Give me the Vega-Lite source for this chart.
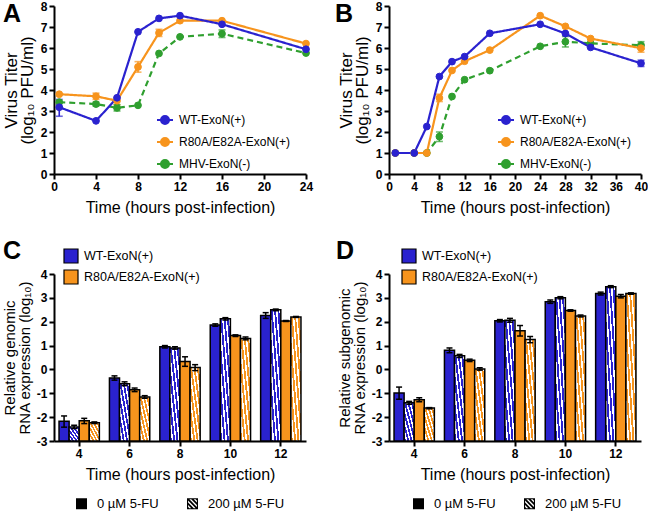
{
"$schema":"https://vega.github.io/schema/vega-lite/v6.json",
"padding":{"left":2,"top":0,"right":0,"bottom":0},
"columns":2,
"spacing":{"row":100,"column":83},
"bounds":"flush",
"config":{
 "font":"Liberation Sans",
 "view":{"stroke":null},
 "axis":{"domainColor":"black","domainWidth":2,"tickColor":"black","tickWidth":2,"tickSize":5,"labelFont":"Liberation Sans","labelFontWeight":"bold","labelFontSize":12,"labelColor":"black","labelPadding":2,"titleFont":"Liberation Sans","titleFontWeight":"normal","titleFontSize":16,"titleColor":"black","grid":false,"labelFlush":false,"labelOverlap":false},
 "axisX":{"titlePadding":7,"titleFontWeight":"normal"},
 "axisY":{"titlePadding":4,"titleFontWeight":"normal"},
 "legend":{"labelFont":"Liberation Sans","labelFontSize":12,"labelColor":"black","padding":0},
 "title":{"fontSize":25,"fontWeight":"bold","anchor":"start","frame":"group","color":"black","offset":0}
},
"resolve":{"scale":{"color":"independent","fill":"independent","stroke":"independent","strokeDash":"independent","shape":"independent"},"legend":{"color":"independent","fill":"independent","stroke":"independent","strokeDash":"independent","shape":"independent"}},
"datasets":{
 "A":[
  {"s":"MHV-ExoN(-)","t":0.5,"v":3.42},{"s":"MHV-ExoN(-)","t":4,"v":3.33,"lo":3.24,"hi":3.42},{"s":"MHV-ExoN(-)","t":6,"v":3.15,"lo":3.0,"hi":3.3},{"s":"MHV-ExoN(-)","t":8,"v":3.27},{"s":"MHV-ExoN(-)","t":10,"v":5.74},{"s":"MHV-ExoN(-)","t":12,"v":6.53},{"s":"MHV-ExoN(-)","t":16,"v":6.68,"lo":6.5,"hi":6.86},{"s":"MHV-ExoN(-)","t":24,"v":5.76},
  {"s":"R80A/E82A-ExoN(+)","t":0.5,"v":3.8},{"s":"R80A/E82A-ExoN(+)","t":4,"v":3.7,"lo":3.55,"hi":3.85},{"s":"R80A/E82A-ExoN(+)","t":6,"v":3.49,"lo":3.3,"hi":3.65},{"s":"R80A/E82A-ExoN(+)","t":8,"v":5.1,"lo":4.85,"hi":5.35},{"s":"R80A/E82A-ExoN(+)","t":10,"v":6.72,"lo":6.55,"hi":6.89},{"s":"R80A/E82A-ExoN(+)","t":12,"v":7.3},{"s":"R80A/E82A-ExoN(+)","t":16,"v":7.3},{"s":"R80A/E82A-ExoN(+)","t":24,"v":6.21},
  {"s":"WT-ExoN(+)","t":0.5,"v":3.18,"lo":2.75,"hi":3.55},{"s":"WT-ExoN(+)","t":4,"v":2.53},{"s":"WT-ExoN(+)","t":6,"v":3.63},{"s":"WT-ExoN(+)","t":8,"v":6.77},{"s":"WT-ExoN(+)","t":10,"v":7.41},{"s":"WT-ExoN(+)","t":12,"v":7.54},{"s":"WT-ExoN(+)","t":16,"v":7.13},{"s":"WT-ExoN(+)","t":24,"v":5.94}
 ],
 "B":[
  {"s":"MHV-ExoN(-)","t":1,"v":1},{"s":"MHV-ExoN(-)","t":4,"v":1},{"s":"MHV-ExoN(-)","t":6,"v":1},{"s":"MHV-ExoN(-)","t":8,"v":1.78,"lo":1.55,"hi":2.0},{"s":"MHV-ExoN(-)","t":10,"v":3.69},{"s":"MHV-ExoN(-)","t":12,"v":4.49},{"s":"MHV-ExoN(-)","t":16,"v":4.92},{"s":"MHV-ExoN(-)","t":24,"v":6.08},{"s":"MHV-ExoN(-)","t":28,"v":6.3,"lo":6.05,"hi":6.55},{"s":"MHV-ExoN(-)","t":32,"v":6.22},{"s":"MHV-ExoN(-)","t":40,"v":6.13,"lo":5.95,"hi":6.3},
  {"s":"R80A/E82A-ExoN(+)","t":1,"v":1},{"s":"R80A/E82A-ExoN(+)","t":4,"v":1},{"s":"R80A/E82A-ExoN(+)","t":6,"v":1},{"s":"R80A/E82A-ExoN(+)","t":8,"v":3.62,"lo":3.45,"hi":3.8},{"s":"R80A/E82A-ExoN(+)","t":10,"v":4.93},{"s":"R80A/E82A-ExoN(+)","t":12,"v":5.37},{"s":"R80A/E82A-ExoN(+)","t":16,"v":5.9},{"s":"R80A/E82A-ExoN(+)","t":24,"v":7.54},{"s":"R80A/E82A-ExoN(+)","t":28,"v":7.03},{"s":"R80A/E82A-ExoN(+)","t":32,"v":6.45},{"s":"R80A/E82A-ExoN(+)","t":40,"v":5.99,"lo":5.8,"hi":6.18},
  {"s":"WT-ExoN(+)","t":1,"v":1},{"s":"WT-ExoN(+)","t":4,"v":1},{"s":"WT-ExoN(+)","t":6,"v":2.26},{"s":"WT-ExoN(+)","t":8,"v":4.64},{"s":"WT-ExoN(+)","t":10,"v":5.35},{"s":"WT-ExoN(+)","t":12,"v":5.59},{"s":"WT-ExoN(+)","t":16,"v":6.7},{"s":"WT-ExoN(+)","t":24,"v":7.13},{"s":"WT-ExoN(+)","t":28,"v":6.69},{"s":"WT-ExoN(+)","t":32,"v":6.03},{"s":"WT-ExoN(+)","t":40,"v":5.27,"lo":5.12,"hi":5.42}
 ],
 "C":[
  {"t":4,"g":"W0","v":-2.17,"lo":-2.42,"hi":-1.95},{"t":4,"g":"W200","v":-2.41,"lo":-2.48,"hi":-2.34},{"t":4,"g":"R0","v":-2.15,"lo":-2.27,"hi":-2.05},{"t":4,"g":"R200","v":-2.23,"lo":-2.27,"hi":-2.2},
  {"t":6,"g":"W0","v":-0.36,"lo":-0.45,"hi":-0.27},{"t":6,"g":"W200","v":-0.6,"lo":-0.68,"hi":-0.52},{"t":6,"g":"R0","v":-0.85,"lo":-0.93,"hi":-0.78},{"t":6,"g":"R200","v":-1.16,"lo":-1.21,"hi":-1.1},
  {"t":8,"g":"W0","v":0.95,"lo":0.9,"hi":1.0},{"t":8,"g":"W200","v":0.9,"lo":0.85,"hi":0.95},{"t":8,"g":"R0","v":0.33,"lo":0.13,"hi":0.53},{"t":8,"g":"R200","v":0.08,"lo":-0.05,"hi":0.2},
  {"t":10,"g":"W0","v":1.86,"lo":1.81,"hi":1.91},{"t":10,"g":"W200","v":2.12,"lo":2.07,"hi":2.17},{"t":10,"g":"R0","v":1.42,"lo":1.38,"hi":1.45},{"t":10,"g":"R200","v":1.3,"lo":1.24,"hi":1.36},
  {"t":12,"g":"W0","v":2.26,"lo":2.14,"hi":2.38},{"t":12,"g":"W200","v":2.5,"lo":2.46,"hi":2.53},{"t":12,"g":"R0","v":2.03,"lo":2.01,"hi":2.05},{"t":12,"g":"R200","v":2.2,"lo":2.18,"hi":2.22}
 ],
 "D":[
  {"t":4,"g":"W0","v":-0.99,"lo":-1.25,"hi":-0.74},{"t":4,"g":"W200","v":-1.4,"lo":-1.46,"hi":-1.34},{"t":4,"g":"R0","v":-1.27,"lo":-1.35,"hi":-1.19},{"t":4,"g":"R200","v":-1.62,"lo":-1.65,"hi":-1.6},
  {"t":6,"g":"W0","v":0.8,"lo":0.7,"hi":0.9},{"t":6,"g":"W200","v":0.57,"lo":0.5,"hi":0.63},{"t":6,"g":"R0","v":0.38,"lo":0.33,"hi":0.43},{"t":6,"g":"R200","v":0.02,"lo":-0.03,"hi":0.07},
  {"t":8,"g":"W0","v":2.04,"lo":1.99,"hi":2.09},{"t":8,"g":"W200","v":2.06,"lo":1.98,"hi":2.14},{"t":8,"g":"R0","v":1.62,"lo":1.4,"hi":1.84},{"t":8,"g":"R200","v":1.25,"lo":1.12,"hi":1.38},
  {"t":10,"g":"W0","v":2.84,"lo":2.77,"hi":2.91},{"t":10,"g":"W200","v":3.0,"lo":2.96,"hi":3.05},{"t":10,"g":"R0","v":2.47,"lo":2.44,"hi":2.5},{"t":10,"g":"R200","v":2.24,"lo":2.2,"hi":2.28},
  {"t":12,"g":"W0","v":3.18,"lo":3.12,"hi":3.24},{"t":12,"g":"W200","v":3.47,"lo":3.43,"hi":3.51},{"t":12,"g":"R0","v":3.07,"lo":3.0,"hi":3.14},{"t":12,"g":"R200","v":3.18,"lo":3.15,"hi":3.21}
 ]
},
"concat":[
 {
  "width":252,"height":168,
  "title":{"text":"A","dx":-51,"dy":31},
  "data":{"name":"A"},
  "encoding":{
   "x":{"field":"t","type":"quantitative","scale":{"domain":[0,24],"nice":false},"axis":{"values":[0,4,8,12,16,20,24],"title":"Time (hours post-infection)","titleFontWeight":"normal"}}
  },
  "layer":[
   {"transform":[{"filter":"isValid(datum.lo)"}],
    "mark":{"type":"errorbar","ticks":{"size":7},"thickness":1.6},
    "encoding":{"y":{"field":"lo","type":"quantitative","scale":{"domain":[0,8],"nice":false},"axis":{"values":[0,1,2,3,4,5,6,7,8],"titleFontSize":17,"titleLineHeight":16,"titleFontWeight":"normal"},"title":["Virus Titer","(log₁₀ PFU/ml)"]},"y2":{"field":"hi"},
     "color":{"field":"s","type":"nominal","scale":{"range":["#2f9f2f","#f7941d","#2a22cf"]},"legend":null}}},
   {"mark":{"type":"line","strokeWidth":2.2},
    "encoding":{"y":{"field":"v","type":"quantitative","scale":{"domain":[0,8],"nice":false},"axis":{"values":[0,1,2,3,4,5,6,7,8],"titleFontSize":17,"titleLineHeight":16,"titleFontWeight":"normal"},"title":["Virus Titer","(log₁₀ PFU/ml)"]},
     "color":{"field":"s","type":"nominal","scale":{"range":["#2f9f2f","#f7941d","#2a22cf"]},"legend":null},
     "strokeDash":{"field":"s","type":"nominal","scale":{"range":[[6,4],[1,0],[1,0]]},"legend":null}}},
   {"mark":{"type":"point","filled":true,"size":46,"opacity":1,"strokeWidth":1},
    "encoding":{"y":{"field":"v","type":"quantitative","scale":{"domain":[0,8],"nice":false},"axis":{"values":[0,1,2,3,4,5,6,7,8],"titleFontSize":17,"titleLineHeight":16,"titleFontWeight":"normal"},"title":["Virus Titer","(log₁₀ PFU/ml)"]},
     "fill":{"field":"s","type":"nominal","scale":{"domain":["WT-ExoN(+)","R80A/E82A-ExoN(+)","MHV-ExoN(-)"],"range":["#2a22cf","#f7941d","#2f9f2f"]},
      "legend":{"title":null,"orient":"none","legendX":102,"legendY":105,"symbolType":"M-1,0H1M-0.5,0A0.5,0.5,0,1,1,0.5,0A0.5,0.5,0,1,1,-0.5,0Z","symbolSize":256,"symbolStrokeWidth":2,"rowPadding":5,"labelOffset":5}},
     "stroke":{"field":"s","type":"nominal","scale":{"domain":["WT-ExoN(+)","R80A/E82A-ExoN(+)","MHV-ExoN(-)"],"range":["#2a22cf","#f7941d","#2f9f2f"]},
      "legend":{"title":null,"orient":"none","legendX":102,"legendY":105,"symbolType":"M-1,0H1M-0.5,0A0.5,0.5,0,1,1,0.5,0A0.5,0.5,0,1,1,-0.5,0Z","symbolSize":256,"symbolStrokeWidth":2,"rowPadding":5,"labelOffset":5}}}}
  ]
 },
 {
  "width":252,"height":168,
  "title":{"text":"B","dx":-54,"dy":31},
  "data":{"name":"B"},
  "encoding":{
   "x":{"field":"t","type":"quantitative","scale":{"domain":[0,40],"nice":false},"axis":{"values":[0,4,8,12,16,20,24,28,32,36,40],"title":"Time (hours post-infection)","titleFontWeight":"normal"}}
  },
  "layer":[
   {"transform":[{"filter":"isValid(datum.lo)"}],
    "mark":{"type":"errorbar","ticks":{"size":7},"thickness":1.6},
    "encoding":{"y":{"field":"lo","type":"quantitative","scale":{"domain":[0,8],"nice":false},"axis":{"values":[0,1,2,3,4,5,6,7,8],"titleFontSize":17,"titleLineHeight":16,"titleFontWeight":"normal"},"title":["Virus Titer","(log₁₀ PFU/ml)"]},"y2":{"field":"hi"},
     "color":{"field":"s","type":"nominal","scale":{"range":["#2f9f2f","#f7941d","#2a22cf"]},"legend":null}}},
   {"mark":{"type":"line","strokeWidth":2.2},
    "encoding":{"y":{"field":"v","type":"quantitative","scale":{"domain":[0,8],"nice":false},"axis":{"values":[0,1,2,3,4,5,6,7,8],"titleFontSize":17,"titleLineHeight":16,"titleFontWeight":"normal"},"title":["Virus Titer","(log₁₀ PFU/ml)"]},
     "color":{"field":"s","type":"nominal","scale":{"range":["#2f9f2f","#f7941d","#2a22cf"]},"legend":null},
     "strokeDash":{"field":"s","type":"nominal","scale":{"range":[[6,4],[1,0],[1,0]]},"legend":null}}},
   {"mark":{"type":"point","filled":true,"size":46,"opacity":1,"strokeWidth":1},
    "encoding":{"y":{"field":"v","type":"quantitative","scale":{"domain":[0,8],"nice":false},"axis":{"values":[0,1,2,3,4,5,6,7,8],"titleFontSize":17,"titleLineHeight":16,"titleFontWeight":"normal"},"title":["Virus Titer","(log₁₀ PFU/ml)"]},
     "fill":{"field":"s","type":"nominal","scale":{"domain":["WT-ExoN(+)","R80A/E82A-ExoN(+)","MHV-ExoN(-)"],"range":["#2a22cf","#f7941d","#2f9f2f"]},
      "legend":{"title":null,"orient":"none","legendX":108,"legendY":105,"symbolType":"M-1,0H1M-0.5,0A0.5,0.5,0,1,1,0.5,0A0.5,0.5,0,1,1,-0.5,0Z","symbolSize":256,"symbolStrokeWidth":2,"rowPadding":5,"labelOffset":5}},
     "stroke":{"field":"s","type":"nominal","scale":{"domain":["WT-ExoN(+)","R80A/E82A-ExoN(+)","MHV-ExoN(-)"],"range":["#2a22cf","#f7941d","#2f9f2f"]},
      "legend":{"title":null,"orient":"none","legendX":108,"legendY":105,"symbolType":"M-1,0H1M-0.5,0A0.5,0.5,0,1,1,0.5,0A0.5,0.5,0,1,1,-0.5,0Z","symbolSize":256,"symbolStrokeWidth":2,"rowPadding":5,"labelOffset":5}}}}
  ]
 },
 {
  "width":252,"height":167,
  "title":{"text":"C","dx":-51,"dy":20},
  "data":{"name":"C"},
  "encoding":{
   "x":{"field":"t","type":"ordinal","scale":{"paddingInner":0.2,"paddingOuter":0.1},"axis":{"title":"Time (hours post-infection)","labelAngle":0,"titleFontWeight":"normal"}},
   "xOffset":{"field":"g","type":"nominal","scale":{"domain":["W0","W200","R0","R200"],"padding":0}}
  },
  "layer":[
   {"mark":{"type":"bar","stroke":"black","strokeWidth":1.5},
    "encoding":{
     "y":{"field":"v","type":"quantitative","scale":{"domain":[-3,4],"nice":false},"axis":{"values":[-3,-2,-1,0,1,2,3,4],"labelExpr":"datum.value + ''","titleFontSize":15,"titleLineHeight":15,"titleFontWeight":"normal"},"title":["Relative genomic","RNA expression (log₁₀)"]},
     "y2":{"datum":-3},
     "fill":{"condition":[
       {"test":"datum.g == 'W200'","value":{"gradient":"linear","x1":0,"y1":1,"x2":1,"y2":0,"stops":[{"offset":0,"color":"#2a22cf"},{"offset":0.092,"color":"#2a22cf"},{"offset":0.092,"color":"#ffffff"},{"offset":0.167,"color":"#ffffff"},{"offset":0.167,"color":"#2a22cf"},{"offset":0.258,"color":"#2a22cf"},{"offset":0.258,"color":"#ffffff"},{"offset":0.333,"color":"#ffffff"},{"offset":0.333,"color":"#2a22cf"},{"offset":0.425,"color":"#2a22cf"},{"offset":0.425,"color":"#ffffff"},{"offset":0.5,"color":"#ffffff"},{"offset":0.5,"color":"#2a22cf"},{"offset":0.592,"color":"#2a22cf"},{"offset":0.592,"color":"#ffffff"},{"offset":0.667,"color":"#ffffff"},{"offset":0.667,"color":"#2a22cf"},{"offset":0.758,"color":"#2a22cf"},{"offset":0.758,"color":"#ffffff"},{"offset":0.833,"color":"#ffffff"},{"offset":0.833,"color":"#2a22cf"},{"offset":0.925,"color":"#2a22cf"},{"offset":0.925,"color":"#ffffff"},{"offset":1,"color":"#ffffff"}]}},
       {"test":"datum.g == 'R200'","value":{"gradient":"linear","x1":0,"y1":1,"x2":1,"y2":0,"stops":[{"offset":0,"color":"#f7941d"},{"offset":0.092,"color":"#f7941d"},{"offset":0.092,"color":"#ffffff"},{"offset":0.167,"color":"#ffffff"},{"offset":0.167,"color":"#f7941d"},{"offset":0.258,"color":"#f7941d"},{"offset":0.258,"color":"#ffffff"},{"offset":0.333,"color":"#ffffff"},{"offset":0.333,"color":"#f7941d"},{"offset":0.425,"color":"#f7941d"},{"offset":0.425,"color":"#ffffff"},{"offset":0.5,"color":"#ffffff"},{"offset":0.5,"color":"#f7941d"},{"offset":0.592,"color":"#f7941d"},{"offset":0.592,"color":"#ffffff"},{"offset":0.667,"color":"#ffffff"},{"offset":0.667,"color":"#f7941d"},{"offset":0.758,"color":"#f7941d"},{"offset":0.758,"color":"#ffffff"},{"offset":0.833,"color":"#ffffff"},{"offset":0.833,"color":"#f7941d"},{"offset":0.925,"color":"#f7941d"},{"offset":0.925,"color":"#ffffff"},{"offset":1,"color":"#ffffff"}]}},
       {"test":"datum.g == 'R0'","value":"#f7941d"}],
      "value":"#2a22cf"}
    }},
   {"mark":{"type":"rule","strokeWidth":1.5,"color":"black"},"encoding":{"y":{"field":"lo","type":"quantitative","scale":{"domain":[-3,4],"nice":false},"axis":{"values":[-3,-2,-1,0,1,2,3,4],"labelExpr":"datum.value + ''","titleFontSize":15,"titleLineHeight":15,"titleFontWeight":"normal"},"title":["Relative genomic","RNA expression (log₁₀)"]},"y2":{"field":"hi"}}},
   {"mark":{"type":"tick","thickness":1.5,"size":6,"color":"black","opacity":1},"encoding":{"y":{"field":"lo","type":"quantitative","scale":{"domain":[-3,4],"nice":false},"axis":{"values":[-3,-2,-1,0,1,2,3,4],"labelExpr":"datum.value + ''","titleFontSize":15,"titleLineHeight":15,"titleFontWeight":"normal"},"title":["Relative genomic","RNA expression (log₁₀)"]}}},
   {"mark":{"type":"tick","thickness":1.5,"size":6,"color":"black","opacity":1},"encoding":{"y":{"field":"hi","type":"quantitative","scale":{"domain":[-3,4],"nice":false},"axis":{"values":[-3,-2,-1,0,1,2,3,4],"labelExpr":"datum.value + ''","titleFontSize":15,"titleLineHeight":15,"titleFontWeight":"normal"},"title":["Relative genomic","RNA expression (log₁₀)"]}}},
   {"transform":[{"filter":"false"}],"mark":{"type":"square","stroke":"black","strokeWidth":1.2,"opacity":1},
    "encoding":{"fill":{"field":"st","type":"nominal","scale":{"domain":["WT-ExoN(+)","R80A/E82A-ExoN(+)"],"range":["#2a22cf","#f7941d"]},
     "legend":{"title":null,"orient":"none","legendX":9,"legendY":-26,"symbolType":"square","symbolSize":196,"symbolStrokeColor":"black","symbolStrokeWidth":1.2,"rowPadding":1,"labelOffset":5,"labelFontSize":12.5}}}},
   {"transform":[{"filter":"false"}],"mark":{"type":"point","filled":true,"color":"black","strokeWidth":0,"opacity":1},
    "encoding":{"shape":{"field":"d","type":"nominal","scale":{"domain":["0 µM 5-FU","200 µM 5-FU"],"range":["square","M-1,-1H1V1H-1Z M-0.8,-0.57L-0.8,-0.23L0.23,0.8L0.57,0.8Z M-0.57,-0.8L0.8,0.57L0.8,0.23L-0.23,-0.8Z M0.23,-0.8L0.8,-0.23L0.8,-0.57L0.57,-0.8Z M-0.8,0.23L-0.8,0.57L-0.57,0.8L-0.23,0.8Z"]},
     "legend":{"title":null,"orient":"none","direction":"horizontal","legendX":21,"legendY":223,"symbolSize":121,"symbolFillColor":"black","symbolStrokeWidth":0,"columnPadding":27,"labelOffset":9,"labelFontSize":13}}}}
  ],
  "resolve":{"scale":{"fill":"independent"},"legend":{"fill":"independent"}}
 },
 {
  "width":252,"height":167,
  "title":{"text":"D","dx":-53,"dy":20},
  "data":{"name":"D"},
  "encoding":{
   "x":{"field":"t","type":"ordinal","scale":{"paddingInner":0.2,"paddingOuter":0.1},"axis":{"title":"Time (hours post-infection)","labelAngle":0,"titleFontWeight":"normal"}},
   "xOffset":{"field":"g","type":"nominal","scale":{"domain":["W0","W200","R0","R200"],"padding":0}}
  },
  "layer":[
   {"mark":{"type":"bar","stroke":"black","strokeWidth":1.5},
    "encoding":{
     "y":{"field":"v","type":"quantitative","scale":{"domain":[-3,4],"nice":false},"axis":{"values":[-3,-2,-1,0,1,2,3,4],"labelExpr":"datum.value + ''","titleFontSize":15,"titleLineHeight":15,"titleFontWeight":"normal"},"title":["Relative subgenomic","RNA expression (log₁₀)"]},
     "y2":{"datum":-3},
     "fill":{"condition":[
       {"test":"datum.g == 'W200'","value":{"gradient":"linear","x1":0,"y1":1,"x2":1,"y2":0,"stops":[{"offset":0,"color":"#2a22cf"},{"offset":0.092,"color":"#2a22cf"},{"offset":0.092,"color":"#ffffff"},{"offset":0.167,"color":"#ffffff"},{"offset":0.167,"color":"#2a22cf"},{"offset":0.258,"color":"#2a22cf"},{"offset":0.258,"color":"#ffffff"},{"offset":0.333,"color":"#ffffff"},{"offset":0.333,"color":"#2a22cf"},{"offset":0.425,"color":"#2a22cf"},{"offset":0.425,"color":"#ffffff"},{"offset":0.5,"color":"#ffffff"},{"offset":0.5,"color":"#2a22cf"},{"offset":0.592,"color":"#2a22cf"},{"offset":0.592,"color":"#ffffff"},{"offset":0.667,"color":"#ffffff"},{"offset":0.667,"color":"#2a22cf"},{"offset":0.758,"color":"#2a22cf"},{"offset":0.758,"color":"#ffffff"},{"offset":0.833,"color":"#ffffff"},{"offset":0.833,"color":"#2a22cf"},{"offset":0.925,"color":"#2a22cf"},{"offset":0.925,"color":"#ffffff"},{"offset":1,"color":"#ffffff"}]}},
       {"test":"datum.g == 'R200'","value":{"gradient":"linear","x1":0,"y1":1,"x2":1,"y2":0,"stops":[{"offset":0,"color":"#f7941d"},{"offset":0.092,"color":"#f7941d"},{"offset":0.092,"color":"#ffffff"},{"offset":0.167,"color":"#ffffff"},{"offset":0.167,"color":"#f7941d"},{"offset":0.258,"color":"#f7941d"},{"offset":0.258,"color":"#ffffff"},{"offset":0.333,"color":"#ffffff"},{"offset":0.333,"color":"#f7941d"},{"offset":0.425,"color":"#f7941d"},{"offset":0.425,"color":"#ffffff"},{"offset":0.5,"color":"#ffffff"},{"offset":0.5,"color":"#f7941d"},{"offset":0.592,"color":"#f7941d"},{"offset":0.592,"color":"#ffffff"},{"offset":0.667,"color":"#ffffff"},{"offset":0.667,"color":"#f7941d"},{"offset":0.758,"color":"#f7941d"},{"offset":0.758,"color":"#ffffff"},{"offset":0.833,"color":"#ffffff"},{"offset":0.833,"color":"#f7941d"},{"offset":0.925,"color":"#f7941d"},{"offset":0.925,"color":"#ffffff"},{"offset":1,"color":"#ffffff"}]}},
       {"test":"datum.g == 'R0'","value":"#f7941d"}],
      "value":"#2a22cf"}
    }},
   {"mark":{"type":"rule","strokeWidth":1.5,"color":"black"},"encoding":{"y":{"field":"lo","type":"quantitative","scale":{"domain":[-3,4],"nice":false},"axis":{"values":[-3,-2,-1,0,1,2,3,4],"labelExpr":"datum.value + ''","titleFontSize":15,"titleLineHeight":15,"titleFontWeight":"normal"},"title":["Relative subgenomic","RNA expression (log₁₀)"]},"y2":{"field":"hi"}}},
   {"mark":{"type":"tick","thickness":1.5,"size":6,"color":"black","opacity":1},"encoding":{"y":{"field":"lo","type":"quantitative","scale":{"domain":[-3,4],"nice":false},"axis":{"values":[-3,-2,-1,0,1,2,3,4],"labelExpr":"datum.value + ''","titleFontSize":15,"titleLineHeight":15,"titleFontWeight":"normal"},"title":["Relative subgenomic","RNA expression (log₁₀)"]}}},
   {"mark":{"type":"tick","thickness":1.5,"size":6,"color":"black","opacity":1},"encoding":{"y":{"field":"hi","type":"quantitative","scale":{"domain":[-3,4],"nice":false},"axis":{"values":[-3,-2,-1,0,1,2,3,4],"labelExpr":"datum.value + ''","titleFontSize":15,"titleLineHeight":15,"titleFontWeight":"normal"},"title":["Relative subgenomic","RNA expression (log₁₀)"]}}},
   {"transform":[{"filter":"false"}],"mark":{"type":"square","stroke":"black","strokeWidth":1.2,"opacity":1},
    "encoding":{"fill":{"field":"st","type":"nominal","scale":{"domain":["WT-ExoN(+)","R80A/E82A-ExoN(+)"],"range":["#2a22cf","#f7941d"]},
     "legend":{"title":null,"orient":"none","legendX":12,"legendY":-26,"symbolType":"square","symbolSize":196,"symbolStrokeColor":"black","symbolStrokeWidth":1.2,"rowPadding":1,"labelOffset":5,"labelFontSize":12.5}}}},
   {"transform":[{"filter":"false"}],"mark":{"type":"point","filled":true,"color":"black","strokeWidth":0,"opacity":1},
    "encoding":{"shape":{"field":"d","type":"nominal","scale":{"domain":["0 µM 5-FU","200 µM 5-FU"],"range":["square","M-1,-1H1V1H-1Z M-0.8,-0.57L-0.8,-0.23L0.23,0.8L0.57,0.8Z M-0.57,-0.8L0.8,0.57L0.8,0.23L-0.23,-0.8Z M0.23,-0.8L0.8,-0.23L0.8,-0.57L0.57,-0.8Z M-0.8,0.23L-0.8,0.57L-0.57,0.8L-0.23,0.8Z"]},
     "legend":{"title":null,"orient":"none","direction":"horizontal","legendX":23,"legendY":223,"symbolSize":121,"symbolFillColor":"black","symbolStrokeWidth":0,"columnPadding":27,"labelOffset":9,"labelFontSize":13}}}}
  ],
  "resolve":{"scale":{"fill":"independent"},"legend":{"fill":"independent"}}
 }
]
}
